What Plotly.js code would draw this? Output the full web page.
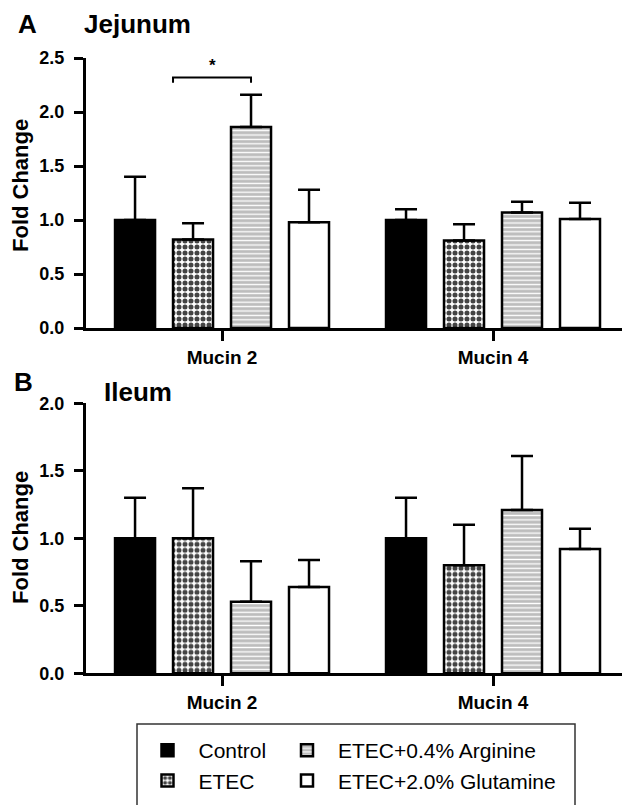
<!DOCTYPE html>
<html>
<head>
<meta charset="utf-8">
<script src="https://cdn.plot.ly/plotly-3.0.1.min.js"></script>
<style>html,body{margin:0;padding:0;background:#fff;}#chart{width:624px;height:805px;}</style>
</head>
<body>
<div id="chart"></div>
<script>
// ---- data ----
const categories = ['Mucin 2', 'Mucin 4'];
const groupNames = ['Control', 'ETEC', 'ETEC+0.4% Arginine', 'ETEC+2.0% Glutamine'];

// Jejunum (panel A): means and upper SE
const jejControl = [1.00, 1.00];
const jejControlErr = [0.40, 0.10];
const jejEtec = [0.82, 0.81];
const jejEtecErr = [0.15, 0.15];
const jejArginine = [1.86, 1.07];
const jejArginineErr = [0.30, 0.10];
const jejGlutamine = [0.98, 1.01];
const jejGlutamineErr = [0.30, 0.15];

// Ileum (panel B)
const ileControl = [1.00, 1.00];
const ileControlErr = [0.30, 0.30];
const ileEtec = [1.00, 0.80];
const ileEtecErr = [0.37, 0.30];
const ileArginine = [0.53, 1.21];
const ileArginineErr = [0.30, 0.40];
const ileGlutamine = [0.64, 0.92];
const ileGlutamineErr = [0.20, 0.15];

const jejTicks = [0, 0.5, 1.0, 1.5, 2.0, 2.5];
const ileTicks = [0, 0.5, 1.0, 1.5, 2.0];

// ---- styles ----
const FONT = 'Liberation Sans, Arial, Helvetica, sans-serif';
const W = 624, H = 805;
const py = p => 1 - p / H;
const px = p => p / W;

const markerStyles = [
  {color: '#000000', line: {color: '#000', width: 2.5}},
  {color: '#ffffff', line: {color: '#000', width: 2.5},
   pattern: {shape: '.', fgcolor: '#444444', bgcolor: '#ffffff', size: 6, solidity: 0.55}},
  {color: '#bdbdbd', line: {color: '#000', width: 2.5},
   pattern: {shape: '-', fgcolor: '#ffffff', bgcolor: '#bdbdbd', size: 4.4, solidity: 0.3}},
  {color: '#ffffff', line: {color: '#000', width: 2.5}}
];
const legendOf = ['legend', 'legend', 'legend2', 'legend2'];

const jejSeries = [[jejControl, jejControlErr], [jejEtec, jejEtecErr], [jejArginine, jejArginineErr], [jejGlutamine, jejGlutamineErr]];
const ileSeries = [[ileControl, ileControlErr], [ileEtec, ileEtecErr], [ileArginine, ileArginineErr], [ileGlutamine, ileGlutamineErr]];

function makeTraces(series, xa, ya, showLegend) {
  return series.map(([vals, errs], i) => ({
    type: 'bar',
    name: groupNames[i],
    x: categories,
    y: vals,
    xaxis: xa, yaxis: ya,
    marker: markerStyles[i],
    legend: legendOf[i],
    legendgroup: groupNames[i],
    showlegend: showLegend,
    error_y: {
      type: 'data', symmetric: false,
      array: errs, arrayminus: errs.map(() => 0),
      color: '#000', thickness: 2.5, width: 11, visible: true
    },
    hoverinfo: 'skip'
  }));
}

const data = [...makeTraces(jejSeries, 'x', 'y', true), ...makeTraces(ileSeries, 'x2', 'y2', false)];

const bargap = 0.144, bargroupgap = 0.31;
const slot = (1 - bargap) / groupNames.length;
const barW = slot * (1 - bargroupgap);
const centerOf = (cat, g) => cat + (g - (groupNames.length - 1) / 2) * slot;

// significance bracket between ETEC and Arginine in Mucin 2 (jejunum)
const sigLeft = centerOf(0, 1) - barW / 2;
const sigRight = centerOf(0, 2);
const sigY = 2.32, sigDrop = 0.05;

const xDomain = [px(86), px(622)];
const xRange = [-0.502, 1.476];

function xAxis(anchor) {
  return {
    domain: xDomain, range: xRange, anchor: anchor, type: 'category',
    showline: true, linecolor: '#000', linewidth: 3,
    ticks: 'outside', ticklen: 10, tickwidth: 3, tickcolor: '#000',
    showgrid: false, zeroline: false, fixedrange: true,
    tickfont: {family: FONT, size: 19, color: '#000', weight: 'bold'}
  };
}
function yAxis(anchor, domain, range, ticks) {
  return {
    domain: domain, range: range, anchor: anchor,
    tickvals: ticks, ticktext: ticks.map(t => t.toFixed(1)),
    showline: true, linecolor: '#000', linewidth: 3,
    ticks: 'outside', ticklen: 9, tickwidth: 3, tickcolor: '#000',
    ticklabelstandoff: 6,
    showgrid: false, zeroline: false, fixedrange: true,
    tickfont: {family: FONT, size: 18, color: '#000', weight: 'bold'}
  };
}

const titleFont = {family: FONT, size: 26, color: '#000', weight: 'bold'};
const yTitleFont = {family: FONT, size: 22, color: '#000', weight: 'bold'};

const layout = {
  width: W, height: H,
  margin: {l: 0, r: 0, t: 0, b: 0},
  paper_bgcolor: '#fff', plot_bgcolor: '#fff',
  barmode: 'group', bargap: bargap, bargroupgap: bargroupgap,
  font: {family: FONT, color: '#000'},
  xaxis: xAxis('y'),
  yaxis: yAxis('x', [py(328), py(58)], [0, 2.5], jejTicks),
  xaxis2: xAxis('y2'),
  yaxis2: yAxis('x2', [py(673.3), py(403.3)], [0, 2.0], ileTicks),
  legend: {
    x: px(136.5), y: py(730), xanchor: 'left', yanchor: 'top',
    orientation: 'v', itemwidth: 52, borderwidth: 0, bgcolor: 'rgba(0,0,0,0)',
    font: {family: FONT, size: 21, color: '#000'}, traceorder: 'normal'
  },
  legend2: {
    x: px(276), y: py(730), xanchor: 'left', yanchor: 'top',
    orientation: 'v', itemwidth: 52, borderwidth: 0, bgcolor: 'rgba(0,0,0,0)',
    font: {family: FONT, size: 21, color: '#000'}, traceorder: 'normal'
  },
  shapes: [
    {type: 'path', xref: 'x', yref: 'y',
     path: `M ${sigLeft},${sigY - sigDrop} L ${sigLeft},${sigY} L ${sigRight},${sigY} L ${sigRight},${sigY - sigDrop}`,
     line: {color: '#000', width: 2}},
    {type: 'rect', xref: 'paper', yref: 'paper',
     x0: px(137), x1: px(575), y0: -0.05, y1: py(724),
     line: {color: '#333', width: 1.5}, fillcolor: 'rgba(0,0,0,0)'}
  ],
  annotations: [
    {xref: 'x', yref: 'y', x: (sigLeft + sigRight) / 2, y: 2.43, text: '*', showarrow: false,
     font: {family: FONT, size: 17, color: '#000', weight: 'bold'}, xanchor: 'center', yanchor: 'middle'},
    {xref: 'paper', yref: 'paper', x: px(27.5), y: py(24), text: 'A', showarrow: false,
     font: titleFont, xanchor: 'center', yanchor: 'middle'},
    {xref: 'paper', yref: 'paper', x: px(82), y: py(24), text: 'Jejunum', showarrow: false,
     font: titleFont, xanchor: 'left', yanchor: 'middle'},
    {xref: 'paper', yref: 'paper', x: px(23), y: py(382), text: 'B', showarrow: false,
     font: titleFont, xanchor: 'center', yanchor: 'middle'},
    {xref: 'paper', yref: 'paper', x: px(102), y: py(392), text: 'Ileum', showarrow: false,
     font: titleFont, xanchor: 'left', yanchor: 'middle'},
    {xref: 'paper', yref: 'paper', x: px(20), y: py(186), text: 'Fold Change', showarrow: false,
     textangle: -90, font: yTitleFont, xanchor: 'center', yanchor: 'middle'},
    {xref: 'paper', yref: 'paper', x: px(20), y: py(538), text: 'Fold Change', showarrow: false,
     textangle: -90, font: yTitleFont, xanchor: 'center', yanchor: 'middle'}
  ]
};

Plotly.newPlot('chart', data, layout, {staticPlot: true, displayModeBar: false});
</script>
</body>
</html>
